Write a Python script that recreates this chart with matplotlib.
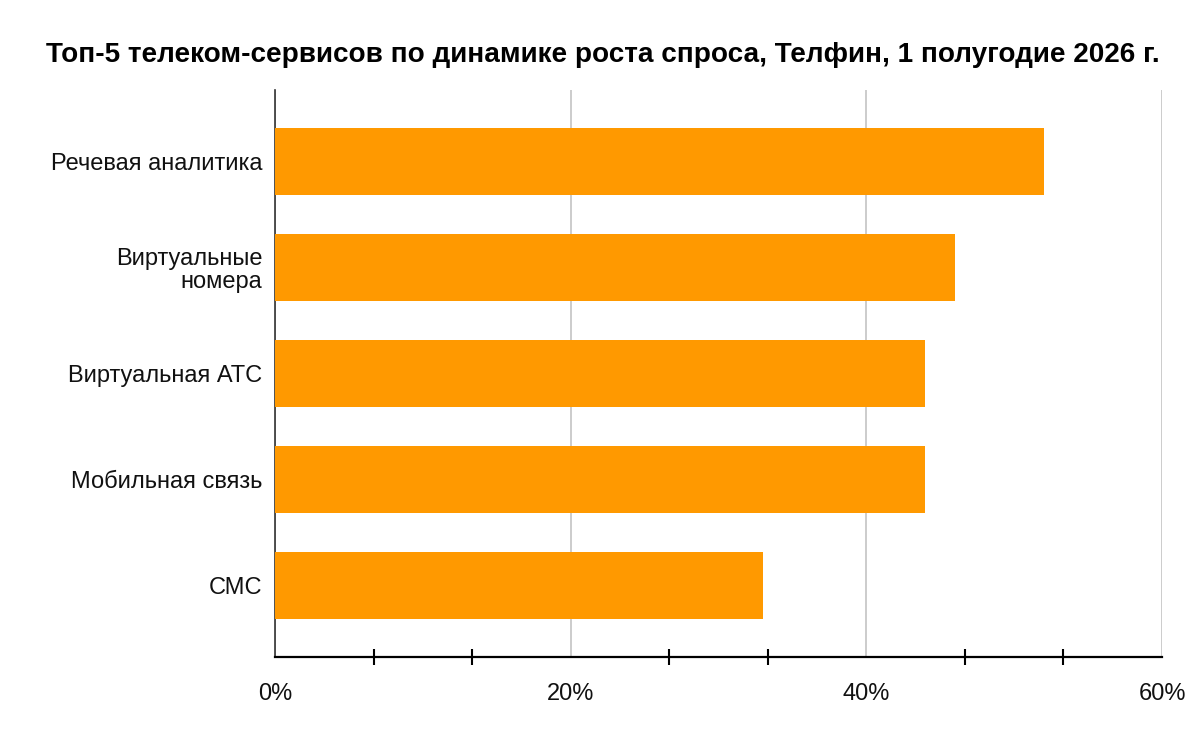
import matplotlib
matplotlib.use("Agg")
import matplotlib.pyplot as plt
from matplotlib.ticker import MultipleLocator, FixedLocator, FuncFormatter

plt.rcParams['font.family'] = ['Liberation Sans', 'DejaVu Sans']

categories = ["Речевая аналитика", "Виртуальные\nномера", "Виртуальная АТС",
              "Мобильная связь", "СМС"]
values = [52, 46, 44, 44, 33]
title = "Топ-5 телеком-сервисов по динамике роста спроса, Телфин, 1 полугодие 2026 г."

fig = plt.figure(figsize=(12, 7.42), dpi=100)
ax = fig.add_axes([275/1200, 85/742, 887/1200, 567/742])

y = list(range(len(categories)))
ax.barh(y, values, height=0.64, color="#FF9900", zorder=3)

ax.set_xlim(0, 60)
ax.set_ylim(len(categories) - 1 + 0.675, -0.675)
ax.set_yticks(y)
ax.set_yticklabels(categories, fontsize=17, color="#111111", linespacing=1.05)
ax.tick_params(axis='y', length=0, pad=9)

ax.xaxis.set_major_locator(MultipleLocator(20))
ax.xaxis.set_major_formatter(FuncFormatter(lambda v, p: f"{v:.0f}%"))
minor = [m * 20 / 3 for m in range(1, 9) if m % 3 != 0]
ax.xaxis.set_minor_locator(FixedLocator(minor))
ax.tick_params(axis='x', which='major', length=0, pad=19, labelsize=17, labelcolor="#111111")
ax.tick_params(axis='x', which='minor', length=12, width=1.5, direction='inout', color='black')

ax.grid(axis='x', which='major', color="#cccccc", linewidth=1.4, zorder=0)
ax.set_axisbelow(True)

for s in ['top', 'right']:
    ax.spines[s].set_visible(False)
ax.spines['bottom'].set_color('black')
ax.spines['bottom'].set_linewidth(1.6)
ax.spines['bottom'].set_zorder(4)
ax.spines['left'].set_color('#333333')
ax.spines['left'].set_linewidth(1.2)

fig.text(603/1200, 1 - 55/742, title, ha='center', va='center',
         fontsize=20.1, fontweight='bold', color='black')

fig.savefig("out.png", dpi=100, facecolor='white')
